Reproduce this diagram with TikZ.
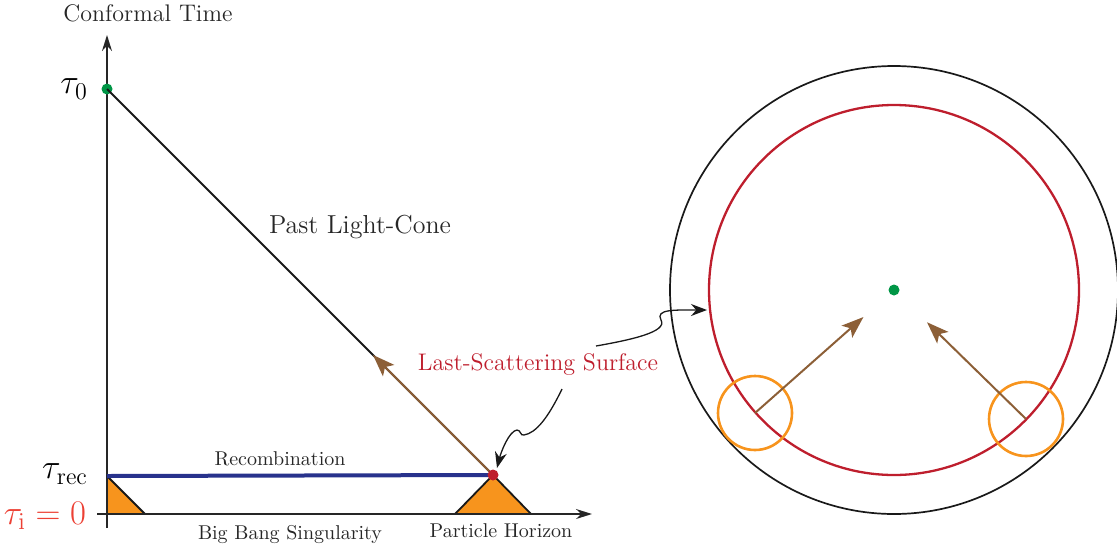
\documentclass[tikz,border=0pt]{standalone}
\usetikzlibrary{arrows.meta,calc}
\definecolor{obsgreen}{RGB}{0,150,70}
\definecolor{lsred}{RGB}{190,30,45}
\definecolor{initred}{RGB}{236,64,52}
\definecolor{spotorange}{RGB}{247,148,29}
\definecolor{raybrown}{RGB}{140,95,55}
\definecolor{recblue}{RGB}{40,50,140}
\begin{document}
\begin{tikzpicture}[x=0.5pt,y=-0.5pt,axis/.style={line width=0.75pt, black!85, -{Stealth[length=8pt,width=5pt]}},cone/.style={line width=1pt, black!90},dot/.style={circle, fill=#1, inner sep=0pt, minimum size=5.5pt},ray/.style={line width=1pt, raybrown, -{Stealth[length=11pt,width=8pt,inset=2.5pt]}},wiggle/.style={line width=0.65pt, black!90, -{Stealth[length=8pt,width=6pt]}},horizon/.style={fill=spotorange, draw=black!90, line width=0.9pt},spot/.style={circle, draw=spotorange, line width=1.3pt, minimum size=37pt, inner sep=0pt},lbl/.style={font=\normalsize, black!85},taulbl/.style={font=\fontsize{16.5}{20}\selectfont, anchor=east}]
\useasboundingbox (0,0) rectangle (1117,552);
% spacetime diagram
\coordinate (origin) at (107,514);\coordinate (rec) at (107,476);\coordinate (ls) at (493,475);
\draw[horizon] (rec) -- (107,514) -- (145,514) -- cycle;
\draw[horizon] (455,514) -- (ls) -- (531,514) -- cycle;
\draw[axis] (97,514) -- (592,514);
\draw[axis] (107,528) -- (107,35);
\draw[recblue, line width=2pt] (rec) -- (ls);
\node[dot=obsgreen] (now) at (107,89) {};
\draw[cone] (now.center) -- (ls);
\coordinate (raytip) at (373,355);
\draw[ray] (ls) -- (raytip);
\node[dot=lsred] (lsdot) at (ls) {};
\node[font=\large, black!85] at (148,13) {Conformal Time};
\node[taulbl] at (95,89) {$\tau_0$};
\node[taulbl] at (95,474) {$\tau_{\mathrm{rec}}$};
\node[taulbl, text=initred] at (93,516) {$\tau_{\mathrm{i}}=0$};
\node[font=\fontsize{13}{15}\selectfont, black!85] at (360,227) {Past Light-Cone};
\node[lbl] at (280,459) {Recombination};
\node[lbl] at (290,534) {Big Bang Singularity};
\node[lbl] at (501,531) {Particle Horizon};
\node[font=\large, text=lsred] (lslabel) at (538,365) {Last-Scattering Surface};
% sky as seen by the observer
\node[dot=obsgreen] (obs) at (894,290) {};
\draw[black!90, line width=0.85pt] (obs.center) circle[radius=224];
\draw[lsred, line width=1.15pt] (obs.center) circle[radius=185];
\node[spot] (spotL) at (755,413) {};
\node[spot] (spotR) at (1026,419) {};
\draw[ray] (spotL.center) -- ($(spotL.center)!0.78!(obs.center)$);
\draw[ray] (spotR.center) -- ($(spotR.center)!0.75!(obs.center)$);
\coordinate (wigA) at (562,389);\coordinate (wigB) at (596,346);\coordinate (lsring) at (707,310);
\draw[wiggle] (wigA) .. controls (548,418) and (536,433) .. (524,435) .. controls (520,436) and (521,430) .. (517,430) .. controls (509,431) and (501,452) .. ($(lsdot)+(4,-7)$);
\draw[wiggle] (wigB) .. controls (630,340) and (668,332) .. (661,320) .. controls (655,309) and (675,310) .. (lsring);
\end{tikzpicture}
\end{document}
